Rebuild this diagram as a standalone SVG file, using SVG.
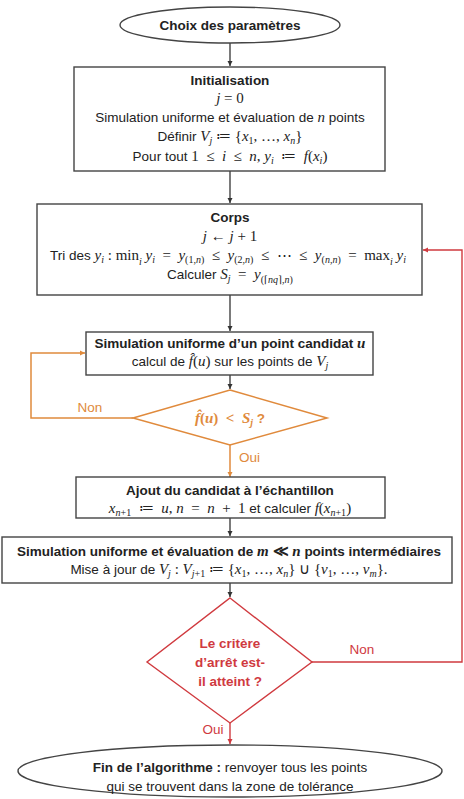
<svg xmlns="http://www.w3.org/2000/svg" width="464" height="799" viewBox="0 0 464 799">
<style>
.t{font-family:"Liberation Sans",Arial,sans-serif;font-size:13.5px;fill:#222;text-anchor:middle}
.b{font-weight:bold}
.m{font-family:"Liberation Serif","Times New Roman",serif;font-style:italic;font-size:15px}
.u{font-family:"Liberation Serif","Times New Roman",serif;font-style:normal;font-size:15px}
.s{font-size:10px}
.box{fill:#fff;stroke:#444;stroke-width:1.4}
.k{fill:none;stroke:#333;stroke-width:1.3}
.o{fill:none;stroke:#E08A3C;stroke-width:1.5}
.rd{fill:none;stroke:#D03A3F;stroke-width:1.4}
.ot{fill:#E08A3C}
.rt{fill:#D03A3F}
</style>
<defs>
<marker id="ak" markerWidth="6" markerHeight="6" refX="5" refY="3" orient="auto" markerUnits="userSpaceOnUse"><path d="M0,0.5 L5,3 L0,5.5z" fill="#333"/></marker>
<marker id="ao" markerWidth="6" markerHeight="6" refX="5" refY="3" orient="auto" markerUnits="userSpaceOnUse"><path d="M0,0.5 L5,3 L0,5.5z" fill="#E08A3C"/></marker>
<marker id="ar" markerWidth="6" markerHeight="6" refX="5" refY="3" orient="auto" markerUnits="userSpaceOnUse"><path d="M0,0.5 L5,3 L0,5.5z" fill="#D03A3F"/></marker>
</defs>
<rect width="464" height="799" fill="#fff"/>

<g id="connectors">
<line class="k" x1="230" y1="43" x2="230" y2="66" marker-end="url(#ak)"/>
<line class="k" x1="230" y1="171" x2="230" y2="203" marker-end="url(#ak)"/>
<line class="k" x1="230" y1="295" x2="230" y2="331" marker-end="url(#ak)"/>
<line class="k" x1="230" y1="375" x2="230" y2="389" marker-end="url(#ak)"/>
<line class="o" x1="230" y1="445" x2="230" y2="477" marker-end="url(#ao)"/>
<polyline class="o" points="133,418 31,418 31,353 85,353" marker-end="url(#ao)"/>
<line class="k" x1="230" y1="518" x2="230" y2="536" marker-end="url(#ak)"/>
<line class="k" x1="230" y1="583" x2="230" y2="597" marker-end="url(#ak)"/>
<line class="rd" x1="230" y1="723" x2="230" y2="744" marker-end="url(#ar)"/>
<polyline class="rd" points="312,662 462,662 462,250 423,250" marker-end="url(#ar)"/>
<text class="t ot" x="90" y="412">Non</text>
<text class="t ot" x="239" y="462" style="text-anchor:start">Oui</text>
<text class="t rt" x="362" y="654">Non</text>
<text class="t rt" x="213" y="734">Oui</text>
</g>

<g id="start">
<ellipse cx="230" cy="25" rx="110" ry="18" class="box"/>
<text class="t b" x="230" y="30">Choix des paramètres</text>
</g>

<g id="init">
<rect x="74" y="67" width="311" height="104" class="box"/>
<text class="t b" x="230" y="85">Initialisation</text>
<text class="t" x="230" y="103"><tspan class="m">j</tspan><tspan class="u"> = 0</tspan></text>
<text class="t" x="230" y="122">Simulation uniforme et évaluation de <tspan class="m">n</tspan> points</text>
<text class="t" x="230" y="141">Définir <tspan class="m">V</tspan><tspan class="m s" dy="3">j</tspan><tspan class="u" dy="-3"> ≔ {</tspan><tspan class="m">x</tspan><tspan class="u s" dy="3">1</tspan><tspan class="u" dy="-3">, …, </tspan><tspan class="m">x</tspan><tspan class="m s" dy="3">n</tspan><tspan class="u" dy="-3">}</tspan></text>
<text class="t" x="230" y="161">Pour tout <tspan class="u">1&#8194;≤&#8194;</tspan><tspan class="m">i</tspan><tspan class="u">&#8194;≤&#8194;</tspan><tspan class="m">n</tspan><tspan class="u">, </tspan><tspan class="m">y</tspan><tspan class="m s" dy="3">i</tspan><tspan class="u" dy="-3">&#8194;≔&#8194;</tspan><tspan class="m">f</tspan><tspan class="u">(</tspan><tspan class="m">x</tspan><tspan class="m s" dy="3">i</tspan><tspan class="u" dy="-3">)</tspan></text>
</g>

<g id="corps">
<rect x="37" y="204" width="385" height="91" class="box"/>
<text class="t b" x="230" y="222">Corps</text>
<text class="t" x="230" y="241"><tspan class="m">j</tspan><tspan class="u"> ← </tspan><tspan class="m">j</tspan><tspan class="u"> + 1</tspan></text>
<text class="t" x="228" y="260">Tri des <tspan class="m">y</tspan><tspan class="m s" dy="3">i</tspan><tspan class="u" dy="-3"> : min</tspan><tspan class="m s" dy="5">i</tspan><tspan class="m" dy="-5"> y</tspan><tspan class="m s" dy="3">i</tspan><tspan class="u" dy="-3">&#8194;=&#8194;</tspan><tspan class="m">y</tspan><tspan class="u s" dy="3">(1,</tspan><tspan class="m s">n</tspan><tspan class="u s">)</tspan><tspan class="u" dy="-3">&#8194;≤&#8194;</tspan><tspan class="m">y</tspan><tspan class="u s" dy="3">(2,</tspan><tspan class="m s">n</tspan><tspan class="u s">)</tspan><tspan class="u" dy="-3">&#8194;≤&#8194;⋯&#8194;≤&#8194;</tspan><tspan class="m">y</tspan><tspan class="u s" dy="3">(</tspan><tspan class="m s">n</tspan><tspan class="u s">,</tspan><tspan class="m s">n</tspan><tspan class="u s">)</tspan><tspan class="u" dy="-3">&#8194;=&#8194;max</tspan><tspan class="m s" dy="5">i</tspan><tspan class="m" dy="-5"> y</tspan><tspan class="m s" dy="3">i</tspan></text>
<text class="t" x="230" y="279">Calculer <tspan class="m">S</tspan><tspan class="m s" dy="3">j</tspan><tspan class="u" dy="-3">&#8194;=&#8194;</tspan><tspan class="m">y</tspan><tspan class="u s" dy="4">(⌈</tspan><tspan class="m s">nq</tspan><tspan class="u s">⌉,</tspan><tspan class="m s">n</tspan><tspan class="u s">)</tspan></text>
</g>

<g id="candidat">
<rect x="86" y="332" width="287" height="43" class="box"/>
<text class="t b" x="230" y="348">Simulation uniforme d’un point candidat <tspan class="m">u</tspan></text>
<text class="t" x="230" y="366">calcul de <tspan class="m">f̂</tspan><tspan class="u">(</tspan><tspan class="m">u</tspan><tspan class="u">)</tspan> sur les points de <tspan class="m">V</tspan><tspan class="m s" dy="3">j</tspan></text>
</g>

<g id="test-candidat">
<polygon points="230,390 327,418 230,445 133,418" fill="#fff" stroke="#E08A3C" stroke-width="1.5"/>
<text class="t ot" x="230" y="423" style="font-weight:bold"><tspan class="m">f̂</tspan><tspan class="u">(</tspan><tspan class="m">u</tspan><tspan class="u">)&#8194;&lt;&#8194;</tspan><tspan class="m">S</tspan><tspan class="m s" dy="3">j</tspan><tspan dy="-3"> ?</tspan></text>
</g>

<g id="ajout">
<rect x="76" y="477" width="309" height="41" class="box"/>
<text class="t b" x="230" y="495">Ajout du candidat à l’échantillon</text>
<text class="t" x="230" y="513"><tspan class="m">x</tspan><tspan class="m s" dy="3">n</tspan><tspan class="u s">+1</tspan><tspan class="u" dy="-3">&#8194;≔&#8194;</tspan><tspan class="m">u</tspan><tspan class="u">, </tspan><tspan class="m">n</tspan><tspan class="u">&#8194;=&#8194;</tspan><tspan class="m">n</tspan><tspan class="u">&#8194;+&#8194;1</tspan> et calculer <tspan class="m">f</tspan><tspan class="u">(</tspan><tspan class="m">x</tspan><tspan class="m s" dy="3">n</tspan><tspan class="u s">+1</tspan><tspan class="u" dy="-3">)</tspan></text>
</g>

<g id="intermediaires">
<rect x="2" y="537" width="450" height="46" class="box"/>
<text class="t b" x="229" y="556">Simulation uniforme et évaluation de <tspan class="m">m</tspan><tspan class="u"> ≪ </tspan><tspan class="m">n</tspan> points intermédiaires</text>
<text class="t" x="229" y="574">Mise à jour de <tspan class="m">V</tspan><tspan class="m s" dy="3">j</tspan><tspan class="u" dy="-3"> : </tspan><tspan class="m">V</tspan><tspan class="m s" dy="3">j</tspan><tspan class="u s">+1</tspan><tspan class="u" dy="-3"> ≔ {</tspan><tspan class="m">x</tspan><tspan class="u s" dy="3">1</tspan><tspan class="u" dy="-3">, …, </tspan><tspan class="m">x</tspan><tspan class="m s" dy="3">n</tspan><tspan class="u" dy="-3">} ∪ {</tspan><tspan class="m">v</tspan><tspan class="u s" dy="3">1</tspan><tspan class="u" dy="-3">, …, </tspan><tspan class="m">v</tspan><tspan class="m s" dy="3">m</tspan><tspan class="u" dy="-3">}.</tspan></text>
</g>

<g id="critere">
<polygon points="230,598 312,662 230,723 147,662" fill="#fff" stroke="#D03A3F" stroke-width="1.4"/>
<text class="t b rt" x="230" y="648">Le critère</text>
<text class="t b rt" x="230" y="667">d’arrêt est-</text>
<text class="t b rt" x="230" y="686">il atteint ?</text>
</g>

<g id="fin">
<ellipse cx="230" cy="771" rx="212" ry="26" class="box"/>
<text class="t" x="230" y="772"><tspan class="b">Fin de l’algorithme :</tspan> renvoyer tous les points</text>
<text class="t" x="230" y="791">qui se trouvent dans la zone de tolérance</text>
</g>
</svg>
